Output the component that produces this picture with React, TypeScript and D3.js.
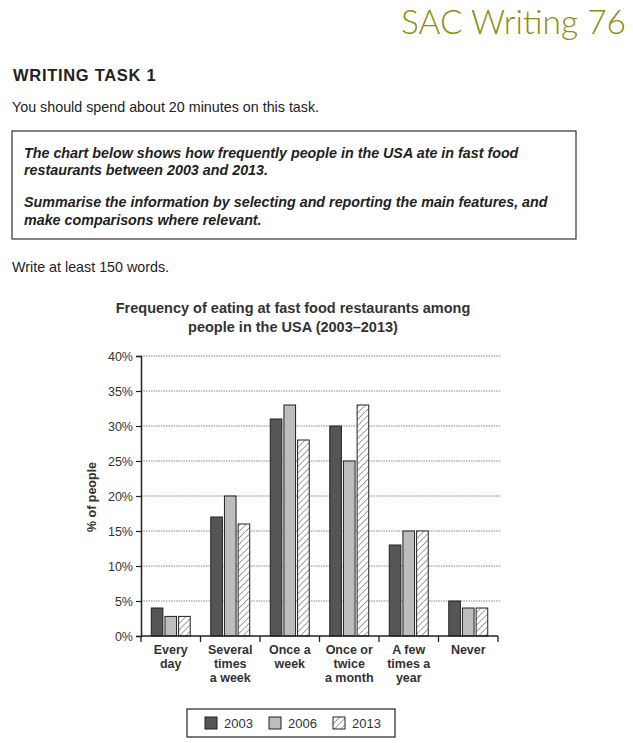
import React, { useRef, useEffect } from 'react';
import * as d3 from 'd3';

const categories = [
  ['Every', 'day'],
  ['Several', 'times', 'a week'],
  ['Once a', 'week'],
  ['Once or', 'twice', 'a month'],
  ['A few', 'times a', 'year'],
  ['Never'],
];
const years = ['2003', '2006', '2013'];
const values2003 = [4, 17, 31, 30, 13, 5];
const values2006 = [2.8, 20, 33, 25, 15, 4];
const values2013 = [2.8, 16, 28, 33, 15, 4];
const yTicks = [0, 5, 10, 15, 20, 25, 30, 35, 40];

const titleLines = [
  'Frequency of eating at fast food restaurants among',
  'people in the USA (2003\u20132013)',
];
const promptLines = [
  'The chart below shows how frequently people in the USA ate in fast food',
  'restaurants between 2003 and 2013.',
  'Summarise the information by selecting and reporting the main features, and',
  'make comparisons where relevant.',
];

const App = () => {
  const ref = useRef(null);

  useEffect(() => {
    if (!ref.current) return;
    d3.select(ref.current).select('svg').remove();

    const width = 633;
    const height = 743;
    const font = 'Liberation Sans, Arial, sans-serif';
    const svg = d3.select(ref.current)
      .append('svg')
      .attr('width', width)
      .attr('height', height)
      .style('position', 'absolute')
      .style('left', 0)
      .style('top', 0)
      .style('background', '#fff');

    const defs = svg.append('defs');
    const pat = defs.append('pattern')
      .attr('id', 'hatch')
      .attr('patternUnits', 'userSpaceOnUse')
      .attr('width', 4.5)
      .attr('height', 4.5)
      .attr('patternTransform', 'rotate(45)');
    pat.append('rect').attr('width', 4.5).attr('height', 4.5).attr('fill', '#fff');
    pat.append('line')
      .attr('x1', 0).attr('y1', 0).attr('x2', 0).attr('y2', 4.5)
      .attr('stroke', '#444').attr('stroke-width', 1);

    // page header
    svg.append('text')
      .attr('x', 626).attr('y', 34)
      .attr('text-anchor', 'end')
      .attr('font-family', 'Lato, sans-serif')
      .attr('font-weight', 300)
      .attr('font-size', 33.5)
      .attr('fill', '#8c8c12')
      .text('SAC Writing 76');

    svg.append('text')
      .attr('x', 13).attr('y', 81)
      .attr('font-family', font)
      .attr('font-weight', 'bold')
      .attr('font-size', 16.5)
      .attr('letter-spacing', 0.7)
      .attr('fill', '#222')
      .text('WRITING TASK 1');

    svg.append('text')
      .attr('x', 12).attr('y', 112)
      .attr('font-family', font)
      .attr('font-size', 14.3)
      .attr('fill', '#222')
      .text('You should spend about 20 minutes on this task.');

    svg.append('rect')
      .attr('x', 12).attr('y', 131)
      .attr('width', 564).attr('height', 108)
      .attr('fill', 'none')
      .attr('stroke', '#333')
      .attr('stroke-width', 1.2);

    const promptY = [158, 175, 207, 225];
    svg.selectAll('text.prompt')
      .data(promptLines)
      .enter()
      .append('text')
      .attr('class', 'prompt')
      .attr('x', 24)
      .attr('y', (d, i) => promptY[i])
      .attr('font-family', font)
      .attr('font-weight', 'bold')
      .attr('font-style', 'italic')
      .attr('font-size', 14.3)
      .attr('fill', '#222')
      .text(d => d);

    svg.append('text')
      .attr('x', 12).attr('y', 272)
      .attr('font-family', font)
      .attr('font-size', 14.3)
      .attr('fill', '#222')
      .text('Write at least 150 words.');

    // chart title
    svg.selectAll('text.title')
      .data(titleLines)
      .enter()
      .append('text')
      .attr('class', 'title')
      .attr('x', 293)
      .attr('y', (d, i) => 313 + i * 19)
      .attr('text-anchor', 'middle')
      .attr('font-family', font)
      .attr('font-weight', 'bold')
      .attr('font-size', 14.5)
      .attr('fill', '#333')
      .text(d => d);

    const left = 141;
    const right = 498;
    const top = 356;
    const bottom = 636;

    const y = d3.scaleLinear().domain([0, 40]).range([bottom, top]);
    const x0 = d3.scaleBand()
      .domain(categories.map((d, i) => String(i)))
      .range([left, right])
      .paddingInner(0)
      .paddingOuter(0);
    const x1 = d3.scaleBand()
      .domain(years)
      .range([0, x0.bandwidth()])
      .paddingInner(0.15)
      .paddingOuter(0.75);

    // gridlines
    svg.append('g')
      .selectAll('line')
      .data(yTicks.slice(1))
      .enter()
      .append('line')
      .attr('x1', left).attr('x2', right + 2)
      .attr('y1', d => y(d)).attr('y2', d => y(d))
      .attr('stroke', '#888')
      .attr('stroke-width', 1)
      .attr('stroke-dasharray', '1.5,1');

    const series = [values2003, values2006, values2013];
    const fills = ['#555', '#bdbdbd', 'url(#hatch)'];
    const rows = categories.flatMap((c, ci) =>
      years.map((yr, si) => ({ ci, yr, si, v: series[si][ci] }))
    );
    svg.append('g')
      .selectAll('rect')
      .data(rows)
      .enter()
      .append('rect')
      .attr('x', d => x0(String(d.ci)) + x1(d.yr))
      .attr('y', d => y(d.v))
      .attr('width', x1.bandwidth())
      .attr('height', d => bottom - y(d.v))
      .attr('fill', d => fills[d.si])
      .attr('stroke', '#222')
      .attr('stroke-width', 1);

    // y axis
    const yAxis = svg.append('g')
      .attr('transform', `translate(${left},0)`)
      .call(d3.axisLeft(y).tickValues(yTicks).tickSize(5).tickFormat(d => `${d}%`));
    yAxis.select('.domain').attr('stroke', '#222').attr('stroke-width', 1.5);
    yAxis.selectAll('.tick line').attr('stroke', '#222').attr('stroke-width', 1.2);
    yAxis.selectAll('.tick text')
      .attr('font-family', font)
      .attr('font-size', 12.5)
      .attr('fill', '#333')
      .attr('x', -8);

    // x axis
    const xAxis = svg.append('g')
      .attr('transform', `translate(0,${bottom})`);
    xAxis.append('line')
      .attr('x1', left).attr('x2', right)
      .attr('stroke', '#222').attr('stroke-width', 1.5);
    const bounds = categories.map((d, i) => x0(String(i))).concat([right]);
    xAxis.selectAll('line.tick')
      .data(bounds)
      .enter()
      .append('line')
      .attr('class', 'tick')
      .attr('x1', d => d).attr('x2', d => d)
      .attr('y1', 0).attr('y2', 6)
      .attr('stroke', '#222').attr('stroke-width', 1.3);

    const labels = xAxis.selectAll('text.cat')
      .data(categories)
      .enter()
      .append('text')
      .attr('class', 'cat')
      .attr('text-anchor', 'middle')
      .attr('font-family', font)
      .attr('font-weight', 'bold')
      .attr('font-size', 12.5)
      .attr('fill', '#333');
    labels.selectAll('tspan')
      .data((d, i) => d.map(line => ({ line, i })))
      .enter()
      .append('tspan')
      .attr('x', d => x0(String(d.i)) + x0.bandwidth() / 2)
      .attr('y', (d, j) => 18 + j * 14)
      .text(d => d.line);

    svg.append('text')
      .attr('transform', `translate(96,${(top + bottom) / 2 + 1}) rotate(-90)`)
      .attr('text-anchor', 'middle')
      .attr('font-family', font)
      .attr('font-weight', 'bold')
      .attr('font-size', 12.5)
      .attr('fill', '#333')
      .text('% of people');

    // legend
    svg.append('rect')
      .attr('x', 187).attr('y', 709)
      .attr('width', 208).attr('height', 28)
      .attr('fill', '#fff')
      .attr('stroke', '#222')
      .attr('stroke-width', 1.2);
    const legendX = [205, 269, 333];
    const lg = svg.append('g')
      .selectAll('g')
      .data(years)
      .enter()
      .append('g')
      .attr('transform', (d, i) => `translate(${legendX[i]},717)`);
    lg.append('rect')
      .attr('width', 12).attr('height', 12)
      .attr('fill', (d, i) => fills[i])
      .attr('stroke', '#222');
    lg.append('text')
      .attr('x', 19).attr('y', 11)
      .attr('font-family', font)
      .attr('font-size', 13)
      .attr('fill', '#333')
      .text(d => d);
  }, []);

  return <div ref={ref}></div>;
};

export default App;
